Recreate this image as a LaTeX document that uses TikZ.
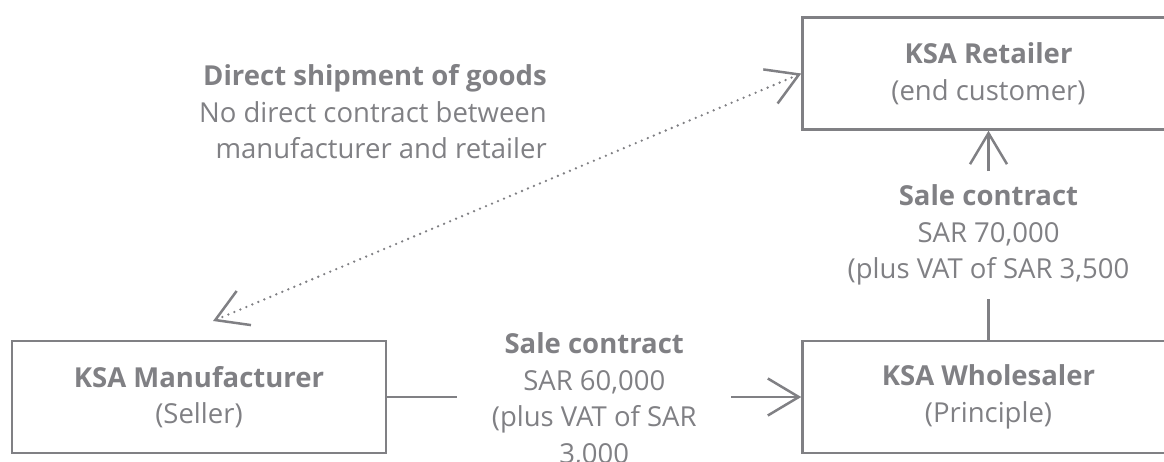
\documentclass[tikz,border=0pt]{standalone}
\usepackage{fontspec}
\setmainfont{Open Sans}
\usepackage{tikz}
\usetikzlibrary{positioning,calc,arrows.meta}
\definecolor{flow-gray}{RGB}{128,128,132}

\begin{document}
\begin{tikzpicture}[
    x=1pt, y=-1pt,
    every node/.style={text=flow-gray, font=\fontsize{27.5}{36.5}\selectfont},
    party/.style={rectangle, draw=flow-gray, line width=2.5pt, minimum width=372pt, minimum height=112pt, align=center, inner sep=0pt},
    deal/.style={align=center, inner sep=0pt},
    conn/.style={draw=flow-gray, line width=2.5pt},
    arrow/.style={conn, -{Straight Barb[length=31pt, width=37pt, line width=2.5pt]}},
    dotted_arrow/.style={draw=flow-gray, line width=2.6pt, line cap=round, dash pattern=on 0pt off 6.5pt,
        {Straight Barb[length=31pt, width=37pt, line width=2.5pt, line cap=butt]}-{Straight Barb[length=31pt, width=37pt, line width=2.5pt, line cap=butt]}}
]
\useasboundingbox (0,0) rectangle (1164,462);

% Parties
\node[party, minimum width=374pt] at (199,397) (manu) {\textbf{KSA Manufacturer}\\(Seller)};
\node[party, right=414pt of manu] (whole) {\textbf{KSA Wholesaler}\\(Principle)};
\node[party, above=209pt of whole] (retail) {\textbf{KSA Retailer}\\(end customer)};

% Contract labels
\node[deal, minimum width=274pt] at ($(manu.east)!0.5!(whole.west)+(0,3)$) (deal1)
    {\textbf{Sale contract}\\SAR 60,000\\(plus VAT of SAR\\3,000};
\node[deal, minimum height=128pt] at ($(whole.north)!0.5!(retail.south)$) (deal2)
    {\textbf{Sale contract}\\SAR 70,000\\(plus VAT of SAR 3,500};

% Shipment note
\node[deal, align=right, anchor=east] at (547,112) (ship)
    {\textbf{Direct shipment of goods}\\No direct contract between\\manufacturer and retailer};
\coordinate (shipend) at (213,321);

% Arrows
\draw[conn] (manu.east) -- (manu.east -| deal1.west);
\draw[arrow] (deal1.east |- whole.west) -- (whole.west);
\draw[conn] (whole.north) -- (deal2.south);
\draw[arrow] (deal2.north) -- (retail.south);
\draw[dotted_arrow] (shipend) -- (retail.west);

\end{tikzpicture}
\end{document}
